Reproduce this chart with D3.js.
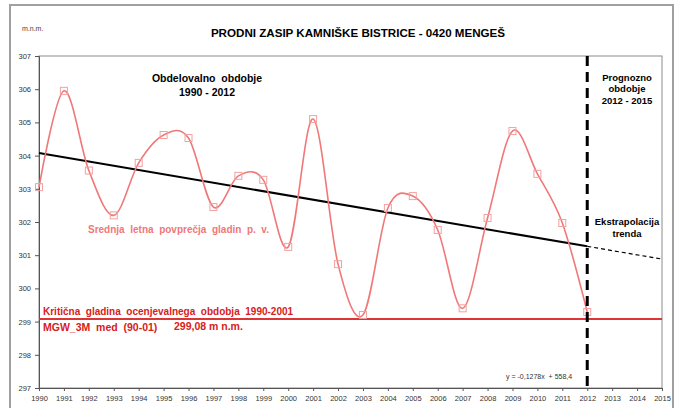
<!DOCTYPE html>
<html><head><meta charset="utf-8">
<script src="https://cdn.jsdelivr.net/npm/d3@7"></script>
<style>body{margin:0;background:#fff}svg{display:block;font-family:"Liberation Sans",Arial,sans-serif}</style>
</head><body><svg id="c" width="684" height="408"></svg>
<script>
const years = d3.range(1990, 2013);
const levels = [303.05,305.95,303.55,302.2,303.78,304.62,304.53,302.45,303.39,303.27,301.25,305.1,300.73,299.2,302.42,302.78,301.76,299.4,302.12,304.74,303.45,301.97,299.29];
const xTicks = d3.range(1990, 2016);
const yTicks = d3.range(297, 308);
const trendSlope = -0.1278, trendIntercept = 558.4;
const criticalLevel = 299.08;
const forecastStart = 2012, forecastEnd = 2015;

const svg = d3.select("#c");
const M = {l:39, r:662, t:56, b:388};
const x = d3.scaleLinear().domain([1990, 2015]).range([M.l, M.r]);
const y = d3.scaleLinear().domain([297, 307]).range([M.b, M.t]);

// outer frame
svg.append("rect").attr("x",10).attr("y",5).attr("width",663).attr("height",420)
  .attr("fill","none").attr("stroke","#a0a0a0").attr("stroke-width",2);

// plot border
svg.append("rect").attr("x",M.l).attr("y",M.t).attr("width",M.r-M.l).attr("height",M.b-M.t)
  .attr("fill","none").attr("stroke","#8c8c8c").attr("stroke-width",1);

// axes
const yAxis = svg.append("g").attr("transform",`translate(${M.l},0)`)
  .call(d3.axisLeft(y).tickValues(yTicks).tickSize(4).tickFormat(d3.format("d")));
const xAxis = svg.append("g").attr("transform",`translate(0,${M.b})`)
  .call(d3.axisBottom(x).tickValues(xTicks).tickSize(3).tickFormat(d3.format("d")));
[yAxis, xAxis].forEach(g=>{
  g.select(".domain").attr("stroke","#555");
  g.selectAll(".tick line").attr("stroke","#555");
  g.selectAll("text").attr("font-size",7.5).attr("fill","#333").attr("font-family","Liberation Sans, Arial, sans-serif");
});
yAxis.selectAll("text").attr("dx",-1);
xAxis.selectAll("text").attr("dy","0.9em");

// critical line
svg.append("line").attr("x1",M.l).attr("x2",M.r).attr("y1",y(criticalLevel)).attr("y2",y(criticalLevel))
  .attr("stroke","#dc3535").attr("stroke-width",2);

// trend
const tr = v => trendSlope*v + trendIntercept;
svg.append("line").attr("x1",x(1990)).attr("y1",y(tr(1990))).attr("x2",x(forecastStart)).attr("y2",y(tr(forecastStart)))
  .attr("stroke","#000").attr("stroke-width",2);
svg.append("line").attr("x1",x(forecastStart)).attr("y1",y(tr(forecastStart))).attr("x2",x(forecastEnd)).attr("y2",y(tr(forecastEnd)))
  .attr("stroke","#000").attr("stroke-width",1.2).attr("stroke-dasharray","4,3");

// smooth series
const line = d3.line().x((d,i)=>x(years[i])).y(d=>y(d)).curve(d3.curveCardinal.tension(0));
svg.append("path").datum(levels).attr("d",line).attr("fill","none").attr("stroke","#f07878").attr("stroke-width",1.6);
svg.selectAll(".mk").data(levels).enter().append("rect")
  .attr("x",(d,i)=>x(years[i])-3.5).attr("y",d=>y(d)-3.5).attr("width",7).attr("height",7)
  .attr("fill","none").attr("stroke","#f4a0a0").attr("stroke-width",1);

// forecast divider
svg.append("line").attr("x1",x(forecastStart)).attr("x2",x(forecastStart)).attr("y1",M.t).attr("y2",M.b)
  .attr("stroke","#000").attr("stroke-width",3).attr("stroke-dasharray","10,6");

// texts
const T = (t,xx,yy,o={}) => svg.append("text").attr("x",xx).attr("y",yy).text(t)
  .attr("font-size",o.size||10).attr("font-weight",o.w||"bold").attr("fill",o.fill||"#000")
  .attr("text-anchor",o.anchor||"start").style("white-space","pre");
T("PRODNI ZASIP KAMNIŠKE BISTRICE - 0420 MENGEŠ", 358, 37, {size:11.6, anchor:"middle"});
T("m.n.m.", 22, 31, {size:7, w:"normal", fill:"#444"});
T("Obdelovalno  obdobje", 207, 82, {size:10.5, anchor:"middle"});
T("1990 - 2012", 207, 96, {size:10.5, anchor:"middle"});
T("Prognozno", 627, 81, {size:9.5, anchor:"middle"});
T("obdobje", 627, 92, {size:9.5, anchor:"middle"});
T("2012 - 2015", 627, 104, {size:9.5, anchor:"middle"});
T("Ekstrapolacija", 627, 225, {size:9.5, anchor:"middle"});
T("trenda", 627, 237, {size:9.5, anchor:"middle"});
T("Srednja  letna  povprečja  gladin  p.  v.", 88, 233, {size:10, fill:"#f07878"});
T("Kritična  gladina  ocenjevalnega  obdobja  1990-2001", 43, 315, {size:10, fill:"#d82020"});
T("MGW_3M  med  (90-01)", 43, 331, {size:10.5, fill:"#d82020"});
T("299,08 m n.m.", 174, 330, {size:10.5, fill:"#d82020"});
T("y = -0,1278x  + 558,4", 506, 379, {size:7, w:"normal", fill:"#333"});
</script></body></html>
